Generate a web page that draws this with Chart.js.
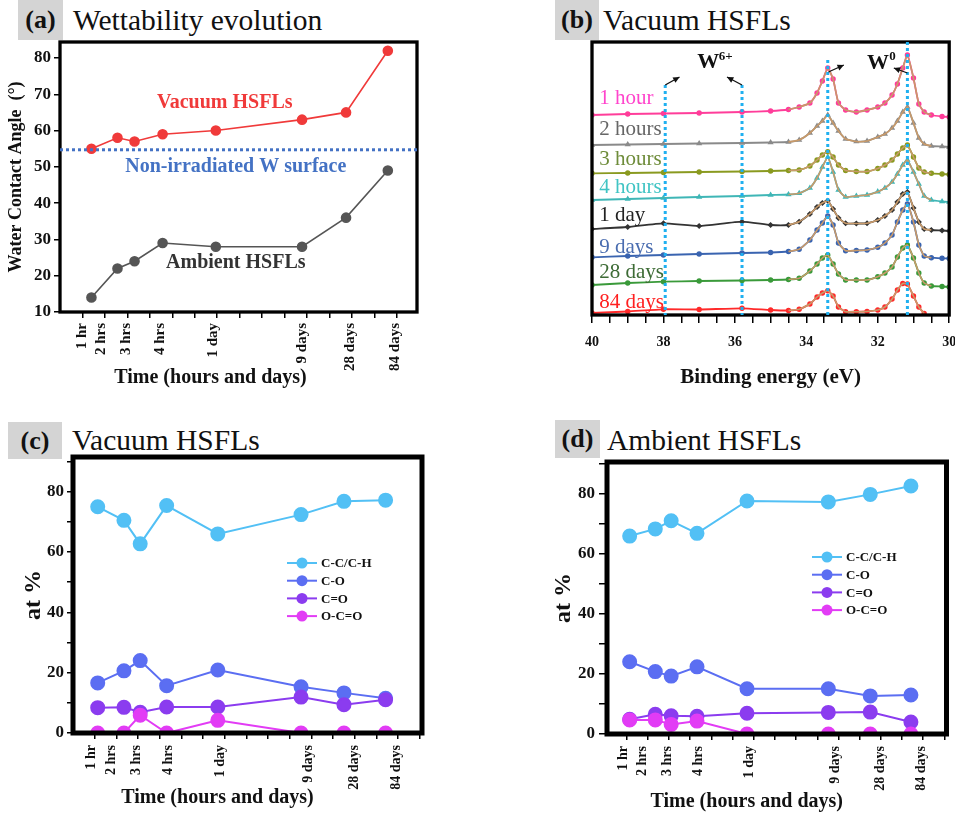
<!DOCTYPE html>
<html>
<head>
<meta charset="utf-8">
<script src="https://cdn.jsdelivr.net/npm/chart.js@4.4.1/dist/chart.umd.min.js"></script>
<style>
    body {
        margin: 0;
        width: 955px;
        height: 820px;
        position: relative;
        overflow: hidden;
        background: #fff;
        font-family: "Liberation Serif", "Times New Roman", serif;
        color: #111;
    }
    .panel-tag {
        position: absolute;
        background: #d4d4d4;
        font-weight: bold;
        font-size: 26px;
        text-align: center;
    }
    .panel-title {
        position: absolute;
        font-size: 29.5px;
        line-height: 40px;
        white-space: nowrap;
    }
    canvas {
        position: absolute;
    }
</style>
</head>
<body>

<div class="panel-tag" style="left:18px; top:0; width:45px; height:40px; line-height:40px;">(a)</div>
<div class="panel-title" style="left:73px; top:0;">Wettability evolution</div>
<div class="panel-tag" style="left:555px; top:0; width:44px; height:40px; line-height:40px;">(b)</div>
<div class="panel-title" style="left:603px; top:0;">Vacuum HSFLs</div>
<div class="panel-tag" style="left:8px; top:422px; width:54px; height:37px; line-height:37px;">(c)</div>
<div class="panel-title" style="left:72px; top:420px;">Vacuum HSFLs</div>
<div class="panel-tag" style="left:555px; top:420px; width:45px; height:38px; line-height:38px;">(d)</div>
<div class="panel-title" style="left:607px; top:420px;">Ambient HSFLs</div>

<canvas id="chartA" width="430" height="392" style="left:0; top:0;"></canvas>
<canvas id="chartB" width="415" height="392" style="left:540px; top:0;"></canvas>
<canvas id="chartC" width="440" height="394" style="left:0; top:420px;"></canvas>
<canvas id="chartD" width="415" height="396" style="left:540px; top:420px;"></canvas>

<script>
const FONT = "'Liberation Serif', 'Times New Roman', serif";

Chart.defaults.font.family = FONT;
Chart.defaults.color = "#111";
Chart.defaults.animation = false;

// ---- shared time axis ----
const timeLabels = ["1 hr", "2 hrs", "3 hrs", "4 hrs", "1 day", "9 days", "28 days", "84 days"];

// ---- (a) wettability ----
const wettabilityTimePos = [1.4, 2.56, 3.32, 4.57, 6.94, 10.78, 12.74, 14.6];
const wettabilityLabelPos = [1, 1.85, 2.96, 4.44, 6.8, 10.8, 12.9, 14.93];
const vacuumAngle = [55, 58, 57, 59, 60, 63, 65, 82];
const ambientAngle = [14, 22, 24, 29, 28, 28, 36, 49];
const nonIrradiatedAngle = 54.7;
const angleTicks = [10, 20, 30, 40, 50, 60, 70, 80];

// ---- (b) W 4f spectra, vacuum HSFLs (a.u., stacked) ----
const bindingEnergy = [40, 39, 38, 37, 35.8, 35, 34.5, 34.2, 33.9, 33.7, 33.55, 33.4, 33.25, 33.1, 32.9,
    32.6, 32.3, 32.0, 31.8, 31.6, 31.45, 31.3, 31.17, 31.0, 30.85, 30.7, 30.5, 30.2, 30.0];
const spectrumNames = ["1 hour", "2 hours", "3 hours", "4 hours", "1 day", "9 days", "28 days", "84 days"];
const spectrum1h = [200, 201, 201.5, 202, 203, 204, 205.5, 208, 212, 222, 234, 247, 236, 212, 205,
    203, 205, 208, 212, 220, 231, 247, 260, 237, 211, 203, 200, 198.5, 198];
const spectrum2h = [170, 170.5, 171, 171.5, 172, 172.5, 173, 175, 182, 189, 194, 200, 192, 184, 176,
    173.5, 174, 178, 181, 187, 194, 203, 208, 192, 177, 171, 169, 168.5, 168];
const spectrum3h = [141.7, 142, 142.5, 143, 143.5, 144, 144.5, 145, 149, 155, 160, 163.3, 158, 150, 144.5,
    143.5, 143.5, 146.5, 150, 155, 161, 167, 170, 158, 147, 143, 141.7, 141, 140.5];
const spectrum4h = [115, 116, 117, 118, 119, 120, 120.5, 121.7, 127, 137, 148, 158, 143, 125, 118,
    119, 120, 123.3, 127, 133, 141, 150, 155, 143, 131, 119, 115, 113.5, 113];
const spectrum1d = [86, 88, 91.7, 89, 93.3, 90, 90, 93.3, 101, 108, 112, 114.3, 106, 97, 91.7,
    91.5, 91.7, 95, 99, 105, 113, 121, 123, 107, 93, 86, 85, 84.5, 84];
const spectrum9d = [57.7, 59, 60, 61, 62, 62.5, 63.5, 65.7, 75, 85, 92, 99, 90, 72, 64.3,
    64.5, 65, 67.7, 72, 80, 93, 105, 111, 93, 70, 59, 57.3, 56.7, 56.5];
const spectrum28d = [30, 32, 33.3, 34, 34.5, 35, 35.5, 36.7, 44, 51, 57, 60, 51, 41, 35,
    35, 35, 38.3, 42, 48, 58, 67, 70, 57, 42, 32, 29, 28.5, 28];
const spectrum84d = [2, 3.5, 5.7, 5.5, 6.7, 5, 4.5, 5.7, 11, 18, 22, 24.3, 19, 8, 3.3,
    3.3, 3.5, 5, 8, 16, 25, 31.5, 31, 19, 8, 1.5, null, null, null];
const peakEnergies = [37.95, 35.8, 33.4, 31.17];
const peakLineTops = [230, 230, 255, 273];
const energyLabels = [30, 32, 34, 36, 38, 40];

// ---- (c), (d) carbon bonding ----
const xpsTimePos = [1.14, 2.35, 3.1, 4.32, 6.68, 10.52, 12.5, 14.42];
const xpsLabelPos = [0.85, 1.75, 2.92, 4.38, 6.78, 10.85, 13.0, 14.9];
const bondNames = ["C-C/C-H", "C-O", "C=O", "O-C=O"];
const vacuumCC = [75, 70.5, 62.7, 75.4, 66, 72.4, 76.8, 77.2];
const vacuumCO = [16.6, 20.6, 24, 15.7, 20.9, 15.3, 13.3, 11.5];
const vacuumCdO = [8.4, 8.5, 6.9, 8.6, 8.6, 11.9, 9.4, 11];
const vacuumOCO = [0, 0, 5.9, 0, 4.2, 0, 0, 0];
const ambientCC = [66, 68.4, 71.1, 66.9, 77.7, 77.4, 79.9, 82.7];
const ambientCO = [24.1, 20.8, 19.3, 22.4, 15.1, 15.1, 12.7, 13];
const ambientCdO = [4.9, 6.6, 6.1, 5.9, 6.9, 7.2, 7.3, 4.0];
const ambientOCO = [4.7, 4.7, 3.2, 4.3, 0, 0, 0, 0];
const percentTicks = [0, 10, 20, 30, 40, 50, 60, 70, 80, 90];

const BOND_COLORS = ["#52c0f5", "#5b6ef2", "#8b3cef", "#e23cf5"];

function toPoints(xs, ys) {

    return xs.map((x, i) => ({ x, y: ys[i] }));
}

const framePlugin = {
    id: "frame",
    afterDatasetsDraw(chart, args, opts) {

        const { ctx, chartArea: a } = chart;

        ctx.save();
        ctx.lineWidth = opts.width || 3;
        ctx.strokeStyle = "#000";
        ctx.strokeRect(a.left, a.top, a.right - a.left, a.bottom - a.top);
        ctx.restore();
    }
};

// x caption that sits left of the plot centre, as in the figure
const captionPlugin = {
    id: "caption",
    afterDraw(chart, args, opts) {

        if (!opts.text) {
            return;
        }

        const { ctx, chartArea: a } = chart;

        ctx.save();
        ctx.font = `bold ${opts.size}px ${FONT}`;
        ctx.fillStyle = "#111";
        ctx.textAlign = "center";
        ctx.textBaseline = "middle";
        ctx.fillText(opts.text, (a.left + a.right) / 2 + opts.dx, opts.y);
        ctx.restore();
    }
};

function timeScales(min, max, tickMarks, labelPos, labelSize, labelPad, totalHeight) {

    return {
        x: {
            type: "linear",
            position: "bottom",
            weight: 0,
            min,
            max,
            afterBuildTicks: (scale) => {
                scale.ticks = tickMarks.map((value) => ({ value }));
            },
            afterFit: (scale) => {
                scale.height = 6;
            },
            ticks: { display: false },
            grid: { drawOnChartArea: false, drawTicks: true, tickLength: 6, color: "#000", lineWidth: 1.5 },
            border: { display: false }
        },
        xLabels: {
            type: "linear",
            position: "bottom",
            weight: 1,
            min,
            max,
            afterBuildTicks: (scale) => {
                scale.ticks = labelPos.map((value) => ({ value }));
            },
            afterFit: (scale) => {
                scale.height = totalHeight - 6;
            },
            ticks: {
                autoSkip: false,
                minRotation: 90,
                maxRotation: 90,
                padding: labelPad,
                color: "#111",
                font: { size: labelSize, weight: "bold" },
                callback: (value, index) => timeLabels[index]
            },
            grid: { display: false, drawTicks: false },
            border: { display: false }
        }
    };
}

function integerMarks(from, to) {

    const marks = [];

    for (let v = from; v <= to; v++) {
        marks.push(v);
    }

    return marks;
}

// ---------------- (a) ----------------
const wettabilityNotesPlugin = {
    id: "wettabilityNotes",
    afterDatasetsDraw(chart, args, opts) {

        const { ctx, chartArea: a, scales } = chart;
        const yRef = scales.y.getPixelForValue(opts.reference);

        ctx.save();
        ctx.strokeStyle = "#4472c4";
        ctx.lineWidth = 3;
        ctx.setLineDash([3, 3]);
        ctx.beginPath();
        ctx.moveTo(a.left, yRef);
        ctx.lineTo(a.right, yRef);
        ctx.stroke();
        ctx.setLineDash([]);

        ctx.textAlign = "center";
        ctx.textBaseline = "middle";

        opts.notes.forEach((note) => {

            ctx.font = `bold ${note.size}px ${FONT}`;
            ctx.fillStyle = note.color;
            ctx.fillText(note.text, scales.x.getPixelForValue(note.x), scales.y.getPixelForValue(note.y));
        });

        ctx.restore();
    }
};

new Chart(document.getElementById("chartA"), {
    type: "line",
    data: {
        datasets: [
            {
                label: "Vacuum HSFLs",
                data: toPoints(wettabilityTimePos, vacuumAngle),
                borderColor: "#f03a3a",
                backgroundColor: "#f03a3a",
                borderWidth: 1.6,
                pointRadius: 4.5
            },
            {
                label: "Ambient HSFLs",
                data: toPoints(wettabilityTimePos, ambientAngle),
                borderColor: "#555",
                backgroundColor: "#555",
                borderWidth: 1.6,
                pointRadius: 4.5
            }
        ]
    },
    options: {
        responsive: false,
        layout: { padding: { top: 42, right: 13, left: 0, bottom: 0 } },
        scales: {
            ...timeScales(0, 15.9, integerMarks(1, 15), wettabilityLabelPos, 15, 5, 80),
            y: {
                min: 10,
                max: 84.4,
                afterBuildTicks: (scale) => {
                    scale.ticks = angleTicks.map((value) => ({ value }));
                },
                afterFit: (scale) => {
                    scale.width = 60;
                },
                ticks: { padding: 3, color: "#111", font: { size: 17, weight: "bold" } },
                grid: { drawOnChartArea: false, tickLength: 6, color: "#000", lineWidth: 1.5 },
                border: { display: false },
                title: {
                    display: true,
                    text: "Water Contact Angle  (°)",
                    color: "#111",
                    font: { size: 18, weight: "bold" },
                    padding: { top: 6, bottom: 0 }
                }
            }
        },
        plugins: {
            legend: { display: false },
            tooltip: { enabled: false },
            frame: { width: 3.3 },
            caption: { text: "Time (hours and days)", size: 20, dx: -28, y: 378 },
            wettabilityNotes: {
                reference: nonIrradiatedAngle,
                notes: [
                    { text: "Vacuum HSFLs", x: 7.34, y: 67.7, color: "#f03a3a", size: 20 },
                    { text: "Non-irradiated W surface", x: 7.83, y: 50.1, color: "#4472c4", size: 20 },
                    { text: "Ambient HSFLs", x: 7.83, y: 23.5, color: "#333", size: 20 }
                ]
            }
        }
    },
    plugins: [framePlugin, captionPlugin, wettabilityNotesPlugin]
});

// ---------------- (b) ----------------
const SPECTRUM_STYLES = [
    { color: "#ff3d9a", text: "#ff44cc", point: "circle" },
    { color: "#8a8a8a", text: "#666666", point: "triangle" },
    { color: "#8a9a20", text: "#6e8c3a", point: "circle" },
    { color: "#3fb6b6", text: "#40c4c4", point: "triangle" },
    { color: "#333333", text: "#222222", point: "rectRot" },
    { color: "#3a64b0", text: "#4a6db0", point: "circle" },
    { color: "#3a9a3a", text: "#3d6b35", point: "circle" },
    { color: "#ff2a2a", text: "#ff2020", point: "circle" }
];
const spectra = [spectrum1h, spectrum2h, spectrum3h, spectrum4h, spectrum1d, spectrum9d, spectrum28d, spectrum84d];
const spectrumLabelY = [217, 186, 156, 128, 100, 68, 43, 13];

const spectrumDatasets = [];

spectra.forEach((values, i) => {

    const style = SPECTRUM_STYLES[i];

    spectrumDatasets.push({
        label: spectrumNames[i] + " fit",
        data: toPoints(bindingEnergy, values).filter((p) => p.x <= 34.5 && p.x >= 30.5 && p.y !== null),
        borderColor: "#c89a6a",
        borderWidth: 1.6,
        pointRadius: 0,
        tension: 0.15
    });

    spectrumDatasets.push({
        label: spectrumNames[i],
        data: toPoints(bindingEnergy, values),
        borderColor: style.color,
        backgroundColor: style.color,
        borderWidth: 1.8,
        pointRadius: 1.8,
        pointStyle: style.point,
        tension: 0.15
    });
});

function drawArrow(ctx, x1, y1, x2, y2) {

    const angle = Math.atan2(y2 - y1, x2 - x1);

    ctx.beginPath();
    ctx.moveTo(x1, y1);
    ctx.lineTo(x2, y2);
    ctx.stroke();
    ctx.beginPath();
    ctx.moveTo(x2, y2);
    ctx.lineTo(x2 - 7 * Math.cos(angle - 0.45), y2 - 7 * Math.sin(angle - 0.45));
    ctx.lineTo(x2 - 7 * Math.cos(angle + 0.45), y2 - 7 * Math.sin(angle + 0.45));
    ctx.closePath();
    ctx.fill();
}

const xpsMarksPlugin = {
    id: "xpsMarks",
    afterDatasetsDraw(chart, args, opts) {

        const { ctx, chartArea: a, scales } = chart;
        const sx = (v) => scales.x.getPixelForValue(v);
        const sy = (v) => scales.y.getPixelForValue(v);

        ctx.save();

        // dotted peak positions
        ctx.strokeStyle = "#1fb0f0";
        ctx.lineWidth = 3;
        ctx.setLineDash([3, 3]);
        peakEnergies.forEach((energy, i) => {

            ctx.beginPath();
            ctx.moveTo(sx(energy), sy(peakLineTops[i]));
            ctx.lineTo(sx(energy), a.bottom);
            ctx.stroke();
        });
        ctx.setLineDash([]);

        // spectrum names
        ctx.textAlign = "left";
        ctx.textBaseline = "middle";
        ctx.font = `21px ${FONT}`;
        spectrumNames.forEach((name, i) => {

            ctx.fillStyle = SPECTRUM_STYLES[i].text;
            ctx.fillText(name, sx(39.8), sy(spectrumLabelY[i]));
        });

        // W6+ and W0 labels
        ctx.fillStyle = "#111";
        ctx.strokeStyle = "#111";
        ctx.lineWidth = 1.3;
        ctx.font = `bold 22px ${FONT}`;
        ctx.fillText("W", sx(37.05), sy(253));
        ctx.fillText("W", sx(32.3), sy(252));
        ctx.font = `bold 13px ${FONT}`;
        ctx.fillText("6+", sx(36.45), sy(258));
        ctx.fillText("0", sx(31.68), sy(258));

        drawArrow(ctx, sx(37.95), sy(230), sx(37.55), sy(238));
        drawArrow(ctx, sx(35.8), sy(230), sx(36.22), sy(238));
        drawArrow(ctx, sx(33.38), sy(243), sx(32.95), sy(250));
        drawArrow(ctx, sx(31.17), sy(242), sx(31.55), sy(247));

        ctx.restore();
    }
};

const energyMarks = [];

for (let v = 30; v <= 40; v += 0.5) {
    energyMarks.push(v);
}

new Chart(document.getElementById("chartB"), {
    type: "line",
    data: { datasets: spectrumDatasets },
    options: {
        responsive: false,
        layout: { padding: { top: 42, right: 5, left: 52, bottom: 0 } },
        scales: {
            x: {
                type: "linear",
                reverse: true,
                min: 30,
                max: 40,
                afterBuildTicks: (scale) => {
                    scale.ticks = energyMarks.map((value) => ({ value }));
                },
                afterFit: (scale) => {
                    scale.height = 77;
                },
                ticks: {
                    autoSkip: false,
                    maxRotation: 0,
                    padding: 11,
                    color: "#111",
                    font: { size: 14, weight: "bold" },
                    callback: (value) => (energyLabels.includes(value) ? value : "")
                },
                grid: { drawOnChartArea: false, tickLength: 8, color: "#000", lineWidth: 1.5 },
                border: { display: false },
                title: {
                    display: true,
                    text: "Binding energy (eV)",
                    color: "#111",
                    font: { size: 21, weight: "bold" },
                    padding: { top: 0, bottom: 2 }
                }
            },
            y: { display: false, min: 0, max: 273 }
        },
        plugins: {
            legend: { display: false },
            tooltip: { enabled: false },
            frame: { width: 3.3 }
        }
    },
    plugins: [framePlugin, xpsMarksPlugin]
});

// ---------------- (c), (d) ----------------
const bondLegendPlugin = {
    id: "bondLegend",
    afterDraw(chart, args, opts) {

        const { ctx } = chart;

        ctx.save();
        ctx.font = `bold 13px ${FONT}`;
        ctx.textAlign = "left";
        ctx.textBaseline = "middle";

        chart.data.datasets.forEach((dataset, i) => {

            const y = opts.y + i * opts.gap;

            ctx.strokeStyle = dataset.borderColor;
            ctx.lineWidth = 2;
            ctx.beginPath();
            ctx.moveTo(opts.x, y);
            ctx.lineTo(opts.x + 30, y);
            ctx.stroke();
            ctx.fillStyle = dataset.backgroundColor;
            ctx.beginPath();
            ctx.arc(opts.x + 15, y, 5.5, 0, Math.PI * 2);
            ctx.fill();
            ctx.fillStyle = "#111";
            ctx.fillText(dataset.label, opts.x + 34, y + 1);
        });

        ctx.restore();
    }
};

function buildBondChart(canvasId, series, setup) {

    const datasets = series.map((values, i) => ({
        label: bondNames[i],
        data: toPoints(xpsTimePos, values),
        borderColor: BOND_COLORS[i],
        backgroundColor: BOND_COLORS[i],
        borderWidth: 2,
        pointRadius: 6.5,
        order: series.length - i
    }));

    return new Chart(document.getElementById(canvasId), {
        type: "line",
        data: { datasets },
        options: {
            responsive: false,
            layout: { padding: setup.padding },
            scales: {
                ...timeScales(setup.xMin, 16.1, integerMarks(1, 16), xpsLabelPos, 14, 6, setup.xHeight),
                y: {
                    min: 0,
                    max: setup.yMax,
                    afterBuildTicks: (scale) => {
                        scale.ticks = percentTicks.map((value) => ({ value }));
                    },
                    afterFit: (scale) => {
                        scale.width = setup.yWidth;
                    },
                    ticks: {
                        padding: setup.yPad,
                        color: "#111",
                        font: { size: 17, weight: "bold" },
                        callback: (value) => (value % 20 === 0 ? value : "")
                    },
                    grid: { drawOnChartArea: false, tickLength: setup.yTick, color: "#000", lineWidth: 1.5 },
                    border: { display: false },
                    title: {
                        display: true,
                        text: "at %",
                        color: "#111",
                        font: { size: 24, weight: "bold" },
                        padding: { top: setup.titlePad, bottom: 0 }
                    }
                }
            },
            plugins: {
                legend: { display: false },
                tooltip: { enabled: false },
                frame: { width: 5 },
                caption: { text: "Time (hours and days)", size: 20, dx: -30, y: setup.captionY },
                bondLegend: setup.legend
            }
        },
        plugins: [framePlugin, captionPlugin, bondLegendPlugin]
    });
}

buildBondChart("chartC", [vacuumCC, vacuumCO, vacuumCdO, vacuumOCO], {
    padding: { top: 37, right: 18, left: 0, bottom: 0 },
    xMin: 0,
    xHeight: 81,
    yMax: 91.5,
    yWidth: 73,
    yPad: 3,
    yTick: 6,
    titlePad: 19,
    captionY: 378,
    legend: { x: 287, y: 143, gap: 17.7 }
});

buildBondChart("chartD", [ambientCC, ambientCO, ambientCdO, ambientOCO], {
    padding: { top: 42, right: 2, left: 0, bottom: 0 },
    xMin: 0.07,
    xHeight: 82,
    yMax: 90.7,
    yWidth: 67,
    yPad: 4,
    yTick: 8,
    titlePad: 9,
    captionY: 382,
    legend: { x: 272, y: 137, gap: 17.7 }
});
</script>
</body>
</html>
